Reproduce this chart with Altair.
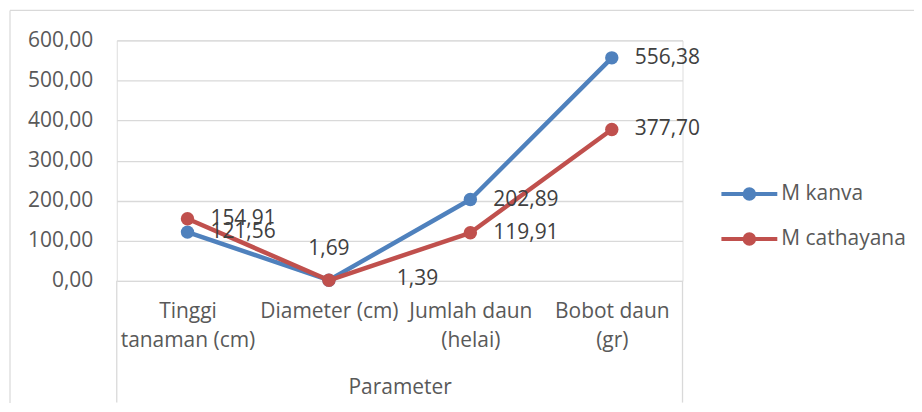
import altair as alt
import pandas as pd

# ---- data ----
categories = ["Tinggi tanaman (cm)", "Diameter (cm)", "Jumlah daun (helai)", "Bobot daun (gr)"]
tick_lines = [["Tinggi", "tanaman (cm)"], ["Diameter (cm)"], ["Jumlah daun", "(helai)"], ["Bobot daun", "(gr)"]]
series_names = ["M kanva", "M cathayana"]
kanva = [121.56, 1.69, 202.89, 556.38]
cathayana = [154.91, 1.39, 119.91, 377.70]
y_ticks = [0, 100, 200, 300, 400, 500, 600]
colors = ["#4F81BD", "#C0504D"]

rows = []
for name, vals in zip(series_names, [kanva, cathayana]):
    for c, v in zip(categories, vals):
        rows.append({"Parameter": c, "Series": name, "Value": v})
df = pd.DataFrame(rows)

FONT = "Open Sans"
W, H = 567, 241
GRID = "#D9D9D9"
AXIS_TXT = "#595959"
LBL_TXT = "#404040"


def js_list(items):
    return "[" + ",".join("'" + s + "'" for s in items) + "]"


label_expr = "datum.label"
for c, lines in zip(categories, tick_lines):
    label_expr = f"datum.label == '{c}' ? {js_list(lines)} : ({label_expr})"

x_enc = alt.X(
    "Parameter:N",
    sort=categories,
    scale=alt.Scale(domain=categories, padding=0.5),
    axis=alt.Axis(
        labelAngle=0, labelExpr=label_expr, labelFontSize=21, labelFont=FONT,
        labelColor=AXIS_TXT, labelLineHeight=29, labelPadding=20,
        labelOverlap=False, labelBound=False, labelLimit=300,
        domain=False, ticks=False, grid=False,
        title="Parameter", titleFontSize=21, titleFont=FONT, titleFontWeight="normal",
        titleColor=AXIS_TXT, titleX=W / 2, titleY=113, titleBaseline="alphabetic",
        titleAlign="center",
    ),
)
y_enc = alt.Y(
    "Value:Q",
    scale=alt.Scale(domain=[0, 600], nice=False),
    axis=alt.Axis(
        values=y_ticks, labelExpr="replace(format(datum.value, '.2f'), '.', ',')",
        labelFontSize=21, labelFont=FONT, labelColor=AXIS_TXT, labelPadding=24,
        domain=False, ticks=False, grid=True, gridColor=GRID, gridWidth=1.3,
    ),
    title=None,
)

LEG_PATH = "M-2,0L2,0M-0.34,0A0.34,0.34,0,1,0,0.34,0A0.34,0.34,0,1,0,-0.34,0Z"
color_enc = alt.Color(
    "Series:N",
    scale=alt.Scale(domain=series_names, range=colors),
    legend=alt.Legend(
        title=None, orient="none", legendX=618, legendY=138,
        symbolType=LEG_PATH, symbolSize=784, symbolStrokeWidth=4,
        labelFontSize=21, labelFont=FONT, labelColor=AXIS_TXT, labelOffset=16,
        rowPadding=16, padding=0,
    ),
)

layers = []
for name in series_names:
    base = alt.Chart(df).transform_filter(alt.datum.Series == name)
    layers.append(
        base.mark_line(strokeWidth=4.5, strokeCap="round", strokeJoin="round").encode(
            x=x_enc, y=y_enc, color=color_enc
        )
    )
    layers.append(
        base.mark_circle(size=180, opacity=1).encode(x=x_enc, y=y_enc, color=color_enc)
    )

lbl_calc = "replace(format(datum.Value, '.2f'), '.', ',')"
text_style = dict(fontSize=21, font=FONT, color=LBL_TXT, baseline="middle")

labels_main = (
    alt.Chart(df)
    .transform_filter(alt.datum.Parameter != categories[1])
    .transform_calculate(lbl=lbl_calc)
    .mark_text(align="left", dx=23, **text_style)
    .encode(x=x_enc, y=y_enc, text="lbl:N")
)
labels_d1 = (
    alt.Chart(df)
    .transform_filter((alt.datum.Parameter == categories[1]) & (alt.datum.Series == series_names[0]))
    .transform_calculate(lbl=lbl_calc)
    .mark_text(align="center", dy=-31, **text_style)
    .encode(x=x_enc, y=y_enc, text="lbl:N")
)
labels_d2 = (
    alt.Chart(df)
    .transform_filter((alt.datum.Parameter == categories[1]) & (alt.datum.Series == series_names[1]))
    .transform_calculate(lbl=lbl_calc)
    .mark_text(align="left", dx=68, dy=-1, **text_style)
    .encode(x=x_enc, y=y_enc, text="lbl:N")
)

one = pd.DataFrame({"k": [0]})
box_left = alt.Chart(one).mark_rule(color=GRID, strokeWidth=1.3).encode(
    x=alt.value(0), y=alt.value(H), y2=alt.value(H + 122)
)
box_right = alt.Chart(one).mark_rule(color=GRID, strokeWidth=1.3).encode(
    x=alt.value(W), y=alt.value(H), y2=alt.value(H + 122)
)
frame_left = alt.Chart(one).mark_rule(color=GRID, strokeWidth=1.2).encode(
    x=alt.value(-107), y=alt.value(-30), y2=alt.value(H + 140)
)
frame_top = alt.Chart(one).mark_rule(color=GRID, strokeWidth=1.2).encode(
    x=alt.value(-107), x2=alt.value(W + 260), y=alt.value(-30)
)

chart = (
    alt.layer(frame_left, frame_top, box_left, box_right, *layers, labels_main, labels_d1, labels_d2)
    .properties(
        width=W, height=H,
        padding={"left": 109, "top": 32, "right": 232, "bottom": 122},
        autosize=alt.AutoSizeParams(type="none"),
    )
    .configure_view(stroke=None)
    .configure(background="white")
)

chart.save("out.html", embed_options={"renderer": "svg", "actions": False})
